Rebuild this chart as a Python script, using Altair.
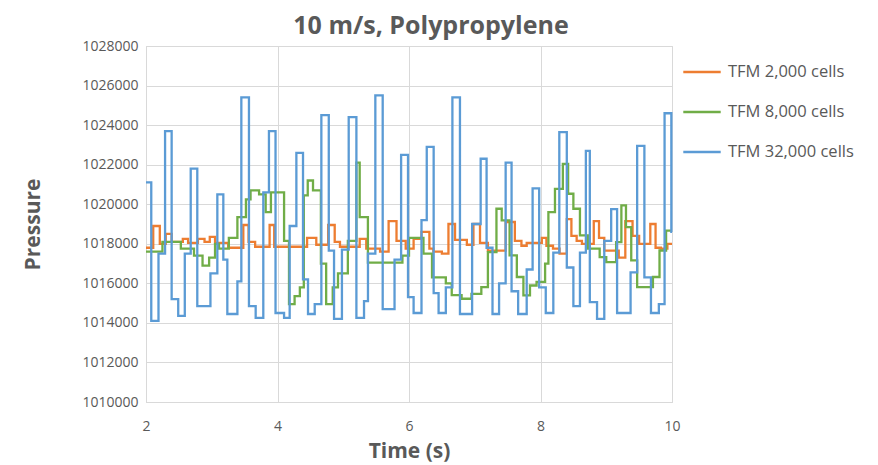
import altair as alt
import pandas as pd

# ---- data (step series: start time of each step, pressure value) ----
t_2k = [2.00, 2.11, 2.21, 2.30, 2.39, 2.56, 2.64, 2.79, 2.89, 2.97, 3.05, 3.25, 3.48, 3.56,
        3.66, 3.88, 3.95, 4.45, 4.59, 4.77, 4.87, 4.95, 5.25, 5.35, 5.56, 5.69, 5.81, 5.95,
        6.07, 6.19, 6.31, 6.37, 6.50, 6.60, 6.70, 6.88, 6.98, 7.08, 7.20, 7.47, 7.61, 7.71,
        7.79, 8.02, 8.09, 8.19, 8.29, 8.40, 8.47, 8.55, 8.63, 8.81, 8.89, 8.97, 9.19, 9.29,
        9.40, 9.50, 9.67, 9.75, 9.83, 9.93, 10.00]
p_2k = [1017800, 1018900, 1018000, 1018500, 1018100, 1018250, 1018050, 1018250, 1018100,
        1018350, 1018050, 1017800, 1018950, 1018100, 1017850, 1018950, 1017850, 1018300,
        1017950, 1018950, 1018100, 1017850, 1018250, 1017750, 1017600, 1019150, 1018150,
        1017750, 1018250, 1018600, 1017750, 1017600, 1017500, 1019000, 1018200, 1017950,
        1019000, 1018050, 1017650, 1019100, 1018150, 1017900, 1018050, 1018300, 1017900,
        1017750, 1017500, 1019250, 1018400, 1018150, 1018000, 1019150, 1018300, 1017650,
        1017300, 1019150, 1018400, 1018000, 1019000, 1017800, 1017750, 1018000, 1018000]

t_8k = [2.00, 2.25, 2.53, 2.73, 2.86, 2.96, 3.05, 3.11, 3.26, 3.39, 3.52, 3.59, 3.72, 3.82,
        3.90, 4.10, 4.175, 4.26, 4.34, 4.40, 4.46, 4.54, 4.66, 4.74, 4.84, 4.92, 5.07, 5.20,
        5.25, 5.375, 5.90, 6.00, 6.22, 6.35, 6.56, 6.65, 6.80, 6.95, 7.10, 7.20, 7.33, 7.41,
        7.53, 7.64, 7.74, 7.84, 7.94, 8.07, 8.12, 8.22, 8.34, 8.42, 8.50, 8.60, 8.72, 8.90,
        9.00, 9.15, 9.23, 9.30, 9.38, 9.47, 9.71, 9.81, 9.91, 10.00]
p_8k = [1017600, 1018100, 1017750, 1017400, 1016900, 1017300, 1018000, 1017750, 1018300,
        1019350, 1020250, 1020700, 1020500, 1019600, 1020600, 1018150, 1014950, 1015350,
        1015800, 1020450, 1021200, 1020700, 1017000, 1014950, 1015800, 1016500, 1018150,
        1022100, 1019350, 1017050, 1017400, 1018300, 1017500, 1016300, 1016000, 1015400,
        1015220, 1015470, 1015810, 1017580, 1019770, 1019180, 1017410, 1016320, 1015390,
        1015890, 1016070, 1017000, 1019600, 1020780, 1022040, 1020530, 1019770, 1018420,
        1017750, 1017330, 1017070, 1018080, 1019940, 1018840, 1017160, 1015810, 1016320,
        1017660, 1018670, 1018670]

t_32k = [2.00, 2.08, 2.19, 2.29, 2.39, 2.49, 2.59, 2.68, 2.78, 2.98, 3.085, 3.176, 3.237,
         3.39, 3.45, 3.566, 3.668, 3.784, 3.87, 3.97, 4.10, 4.185, 4.287, 4.388, 4.464, 4.566,
         4.667, 4.78, 4.86, 4.98, 5.083, 5.20, 5.316, 5.376, 5.488, 5.60, 5.78, 5.88, 5.985,
         6.07, 6.19, 6.27, 6.375, 6.45, 6.56, 6.66, 6.775, 6.96, 7.09, 7.18, 7.27, 7.37, 7.47,
         7.56, 7.66, 7.79, 7.88, 7.98, 8.08, 8.195, 8.286, 8.40, 8.50, 8.60, 8.69, 8.75, 8.86,
         8.97, 9.075, 9.165, 9.37, 9.47, 9.58, 9.68, 9.80, 9.887, 9.99, 10.00]
p_32k = [1021100, 1014100, 1017500, 1023700, 1015200, 1014350, 1017500, 1021800, 1014850,
         1016500, 1020500, 1017200, 1014450, 1016100, 1025400, 1014850, 1014250, 1020600,
         1023700, 1014500, 1014250, 1018900, 1022600, 1016200, 1014450, 1014950, 1024500,
         1017650, 1014200, 1017700, 1024400, 1014250, 1015100, 1017500, 1025500, 1014700,
         1017200, 1022500, 1015300, 1014500, 1019200, 1022900, 1015500, 1014500, 1015800,
         1025400, 1014450, 1019000, 1022300, 1017800, 1014450, 1016000, 1022100, 1015600,
         1014450, 1016700, 1020800, 1015800, 1014500, 1017550, 1023650, 1016800, 1014850,
         1017550, 1022700, 1015050, 1014200, 1018150, 1019750, 1014500, 1016550, 1022950,
         1016300, 1014500, 1014950, 1024600, 1018600, 1018600]

series_names = ["TFM 2,000 cells", "TFM 8,000 cells", "TFM 32,000 cells"]
series_colors = ["#ED7D31", "#70AD47", "#5B9BD5"]
x_ticks = [2, 4, 6, 8, 10]
y_ticks = list(range(1010000, 1028001, 2000))

rows = []
for name, ts, ps, order in [(series_names[0], t_2k, p_2k, 0),
                            (series_names[1], t_8k, p_8k, 1),
                            (series_names[2], t_32k, p_32k, 2)]:
    for t, p in zip(ts, ps):
        rows.append({"Series": name, "Time": t, "Pressure": p, "ord": order})
df = pd.DataFrame(rows)

FONT = "Open Sans"
GREY = "#595959"
GRID = "#d9d9d9"

chart = alt.Chart(df).mark_line(interpolate="step-after", strokeWidth=2.3).encode(
    x=alt.X("Time:Q",
            scale=alt.Scale(domain=[2, 10], nice=False, zero=False),
            axis=alt.Axis(values=x_ticks, title="Time (s)", format="d", labelFlush=False,
                          labelPadding=17, titlePadding=7)),
    y=alt.Y("Pressure:Q",
            scale=alt.Scale(domain=[1010000, 1028000], nice=False, zero=False),
            axis=alt.Axis(values=y_ticks, title="Pressure", format="d", labelFlush=False,
                          labelPadding=8, titlePadding=38)),
    color=alt.Color("Series:N",
                    scale=alt.Scale(domain=series_names, range=series_colors),
                    legend=alt.Legend(title=None, orient="none", legendX=536, legendY=6,
                                      symbolType="stroke", symbolSize=1400,
                                      symbolStrokeWidth=2.5, rowPadding=11,
                                      labelFontSize=16.5, labelColor=GREY, labelFont=FONT,
                                      labelOffset=6, labelLimit=300)),
    order=alt.Order("ord:Q"),
    detail="Series:N",
).properties(
    width=526, height=356,
    title=alt.Title("10 m/s, Polypropylene", fontSize=25, fontWeight="bold", color=GREY,
                    font=FONT, anchor="middle", dx=22, offset=0),
    autosize=alt.AutoSizeParams(type="none"),
    padding={"left": 146, "top": 46, "right": 206, "bottom": 63},
).configure_axis(
    grid=True, gridColor=GRID, gridWidth=1, domainColor=GRID, ticks=False,
    labelFont=FONT, labelFontSize=14, labelColor=GREY,
    titleFont=FONT, titleFontSize=21, titleFontWeight="bold", titleColor=GREY,
).configure_view(stroke=GRID)

chart.save("out.html", embed_options={"renderer": "svg", "actions": False})
